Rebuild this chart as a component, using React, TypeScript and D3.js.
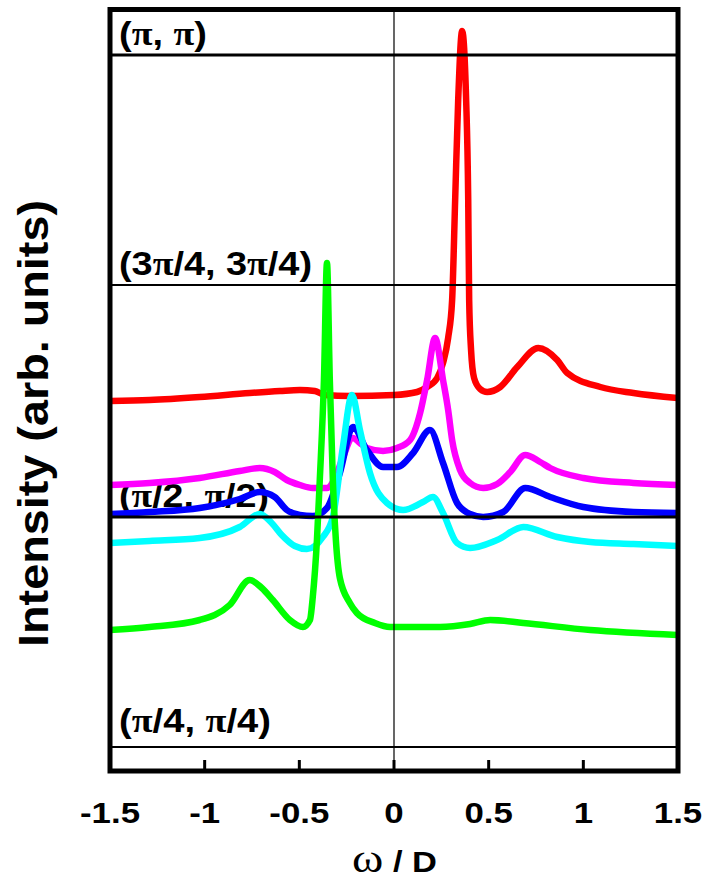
import React from "react";
import * as d3 from "d3";

// ω / D values and intensities (arb. units)
const redW = [-1.5, -1.291, -1.026, -0.762, -0.603, -0.497, -0.418, -0.365, -0.233, 0, 0.122, 0.175, 0.228, 0.259, 0.286, 0.307, 0.323, 0.339, 0.36, 0.381, 0.392, 0.397, 0.407, 0.423, 0.455, 0.492, 0.561, 0.651, 0.762, 0.862, 0.915, 1.09, 1.265, 1.497];
const redI = [369, 370, 373, 377, 379, 380, 379, 375, 374, 375, 378, 383, 392, 407, 432, 470, 570, 670, 739, 670, 570, 470, 420, 392, 381, 378, 383, 403, 422, 410, 397, 383, 377, 372];

const magentaW = [-1.5, -1.291, -1.026, -0.815, -0.709, -0.63, -0.566, -0.497, -0.429, -0.354, -0.312, -0.275, -0.217, -0.18, -0.143, -0.058, 0.016, 0.085, 0.138, 0.175, 0.217, 0.259, 0.286, 0.307, 0.349, 0.402, 0.471, 0.545, 0.614, 0.693, 0.772, 0.825, 1.0, 1.265, 1.497];
const magentaI = [285, 287, 292, 299, 302, 298, 290, 285, 282, 282, 292, 310, 332, 327, 322, 319, 322, 330, 357, 390, 432, 390, 360, 330, 300, 287, 282, 286, 298, 315, 308, 302, 292, 287, 285];

const blueW = [-1.5, -1.291, -1.026, -0.815, -0.709, -0.63, -0.566, -0.497, -0.429, -0.354, -0.286, -0.217, -0.143, -0.058, 0.016, 0.101, 0.19, 0.259, 0.333, 0.402, 0.471, 0.577, 0.693, 0.825, 1.0, 1.265, 1.497];
const blueI = [256, 258, 262, 271, 278, 273, 260, 255, 254, 262, 297, 343, 320, 303, 303, 317, 340, 307, 267, 256, 253, 258, 282, 273, 263, 258, 257];

const cyanW = [-1.5, -1.291, -1.026, -0.815, -0.709, -0.646, -0.593, -0.524, -0.46, -0.376, -0.323, -0.27, -0.222, -0.18, -0.127, -0.037, 0.048, 0.153, 0.206, 0.259, 0.333, 0.402, 0.545, 0.683, 0.862, 1.037, 1.265, 1.497];
const cyanI = [227, 229, 232, 243, 256, 247, 235, 224, 221, 233, 253, 323, 375, 340, 297, 267, 260, 268, 273, 257, 227, 222, 230, 243, 233, 228, 226, 224];

const greenW = [-1.5, -1.291, -1.026, -0.868, -0.762, -0.698, -0.64, -0.55, -0.481, -0.444, -0.429, -0.407, -0.392, -0.37, -0.354, -0.339, -0.323, -0.307, -0.286, -0.233, -0.196, -0.101, -0.021, 0.243, 0.402, 0.508, 0.683, 1.037, 1.497];
const greenI = [140, 143, 150, 165, 190, 182, 170, 150, 143, 150, 173, 230, 290, 390, 507, 390, 290, 230, 192, 167, 157, 147, 143, 143, 146, 150, 147, 140, 135];

const seriesColors = ["#ff0000", "#ff00ff", "#0000ff", "#00ffff", "#00ff00"];

// k-point reference levels and their labels
const kLevels = [715, 485, 253, 23];
const kLabels = [
  ["(", "π", ", ", "π", ")"],
  ["(3", "π", "/4, 3", "π", "/4)"],
  ["(", "π", "/2, ", "π", "/2)"],
  ["(", "π", "/4, ", "π", "/4)"],
];
const kLabelLengths = [88, 193, 150, 152];
const kLevelWidths = [3, 2, 3, 2];

const xTicks = [-1.5, -1, -0.5, 0, 0.5, 1, 1.5];
const xTickLabels = ["-1.5", "-1", "-0.5", "0", "0.5", "1", "1.5"];

export default function App() {
  const W = 717;
  const H = 888;
  const left = 110, right = 678, top = 9.5, bottom = 771;
  const x = d3.scaleLinear().domain([-1.5, 1.5]).range([left, right]);
  const y = d3.scaleLinear().domain([-1, 760.5]).range([bottom, top]);

  const series = [
    [redW, redI],
    [magentaW, magentaI],
    [blueW, blueI],
    [cyanW, cyanI],
    [greenW, greenI],
  ];
  const line = d3
    .line<[number, number]>()
    .x((d) => x(d[0]))
    .y((d) => y(d[1]))
    .curve(d3.curveMonotoneX);

  const sans = "'Liberation Sans', Arial, Helvetica, sans-serif";
  const serif = "'Liberation Serif', 'Times New Roman', serif";

  return (
    <svg width={W} height={H} style={{ position: "absolute", left: 0, top: 0, background: "#fff" }}>
      <defs>
        <clipPath id="plotclip">
          <rect x={left} y={top} width={right - left} height={bottom - top} />
        </clipPath>
      </defs>

      {/* k-point labels */}
      {kLabels.map((parts, i) => (
        <text
          key={"kl" + i}
          x={left + 9}
          y={y(kLevels[i]) - (i === 3 ? 15 : 10)}
          fontSize={34}
          fontWeight="bold"
          fontFamily={sans}
          textLength={kLabelLengths[i]}
          lengthAdjust="spacingAndGlyphs"
          fill="#000"
        >
          {parts.map((p, j) => (
            <tspan key={j} fontFamily={p === "π" ? serif : sans}>
              {p}
            </tspan>
          ))}
        </text>
      ))}

      {/* curves */}
      <g clipPath="url(#plotclip)">
        {series.map(([ws, is], i) => (
          <path
            key={"s" + i}
            d={line(ws.map((w, k) => [w, is[k]] as [number, number])) || ""}
            fill="none"
            stroke={seriesColors[i]}
            strokeWidth={6.5}
          />
        ))}
      </g>

      {/* k-point level lines */}
      {kLevels.map((lv, i) => (
        <line
          key={"lv" + i}
          x1={left}
          x2={right}
          y1={y(lv)}
          y2={y(lv)}
          stroke="#000"
          strokeWidth={kLevelWidths[i]}
        />
      ))}

      {/* zero line */}
      <line x1={x(0)} x2={x(0)} y1={top} y2={bottom} stroke="#000" strokeWidth={1.2} />

      {/* ticks */}
      {xTicks.slice(1, -1).map((t) => (
        <line key={"t" + t} x1={x(t)} x2={x(t)} y1={bottom} y2={bottom - 11} stroke="#000" strokeWidth={3} />
      ))}

      {/* frame */}
      <rect x={left} y={top} width={right - left} height={bottom - top} fill="none" stroke="#000" strokeWidth={5} />

      {/* tick labels */}
      {xTicks.map((t, i) => (
        <text
          key={"tl" + t}
          transform={`translate(${x(t)},823) scale(1.2,1)`}
          textAnchor="middle"
          fontSize={29}
          fontWeight="bold"
          fontFamily={sans}
          fill="#000"
        >
          {xTickLabels[i]}
        </text>
      ))}

      {/* x title */}
      <text
        x={352}
        y={872}
        fontSize={29}
        fontWeight="bold"
        fontFamily={sans}
        textLength={85}
        lengthAdjust="spacingAndGlyphs"
        fill="#000"
      >
        <tspan fontFamily={serif} fontWeight="normal" fontSize={40}>ω</tspan>
        <tspan> / D</tspan>
      </text>

      {/* y title */}
      <text
        transform="translate(48,647) rotate(-90)"
        x={0}
        y={0}
        fontSize={42}
        fontWeight="bold"
        fontFamily={sans}
        textLength={447}
        lengthAdjust="spacingAndGlyphs"
        fill="#000"
      >
        {"Intensity  (arb. units)"}
      </text>
    </svg>
  );
}
